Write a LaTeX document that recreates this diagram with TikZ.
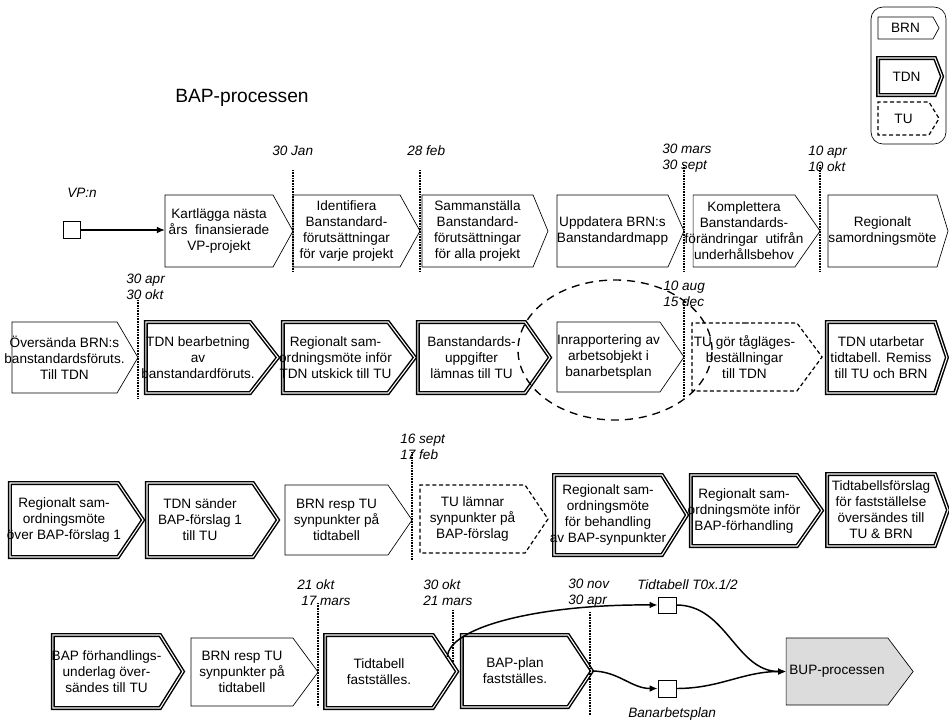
\documentclass[tikz,border=0pt]{standalone}
\usepackage{fontspec}
\setmainfont{Liberation Sans}
\usetikzlibrary{shapes.symbols, arrows.meta}
\definecolor{bupgray}{RGB}{220,220,220}
\tikzset{
    box/.style={signal, signal to=east, inner sep=0pt, outer sep=0pt, fill=white},
    brn/.style={box, draw, line width=0.5pt},
    tdn/.style={box, draw, double=white, double distance=0.8pt, line width=1.1pt},
    tu/.style={box, draw, line width=0.9pt, dash pattern=on 3pt off 2pt},
    sz/.style 2 args={minimum width=#1*0.75pt, minimum height=#2*0.75pt},
    boxtext/.style={font=\fontsize{10.2}{12}\selectfont, align=center, inner sep=0pt},
    txt/.style={label={[boxtext]center:{#1}}},
    date/.style={font=\fontsize{10.2}{12}\selectfont\itshape, align=left, anchor=west, inner sep=0pt},
    dateline/.style={line width=1.2pt, dash pattern=on 0.7pt off 0.5pt},
    sq/.style={draw, fill=white, line width=0.5pt, inner sep=0pt},
    flow/.style={-{Latex[length=6pt,width=5pt]}, line width=1.1pt}
}
\begin{document}
\begin{tikzpicture}[x=0.75pt, y=-0.75pt]
    \useasboundingbox (0,0) rectangle (949,726);
    \node[anchor=west, font=\fontsize{14.4}{17}\selectfont, inner sep=0pt] (title) at (175,98) {BAP-processen};

    % legend
    \draw[line width=0.5pt, rounded corners=9pt] (871,7) rectangle (946,144);
    \node[brn, sz={61}{22}, signal pointer angle=122, txt={BRN}] (lbrn) at (905.5,28) {};
    \node[tdn, sz={64}{37}, signal pointer angle=138, txt={TDN}] (ltdn) at (906.5,76.5) {};
    \node[tu, sz={61}{33}, signal pointer angle=117, txt={TU}] (ltu) at (903.5,118.5) {};

    % row 1
    \node[brn, sz={128}{72}, signal pointer angle=122, txt={Kartlägga nästa\\års~ finansierade\\VP-projekt}] (kart) at (219,231) {};
    \node[brn, sz={127}{72}, signal pointer angle=122, txt={Identifiera\\Banstandard-\\förutsättningar\\för varje projekt}] (ident) at (346.5,231) {};
    \node[brn, sz={126}{72}, signal pointer angle=135, txt={Sammanställa\\Banstandard-\\förutsättningar\\för alla projekt}] (samm) at (477.5,231) {};
    \node[brn, sz={127}{72}, signal pointer angle=132, txt={Uppdatera BRN:s\\Banstandardmapp}] (uppd) at (612.5,231) {};
    \node[brn, sz={127}{72}, signal pointer angle=110, txt={Komplettera\\Banstandards-\\förändringar~ utifrån\\underhållsbehov}] (kompl) at (744,231) {};
    \node[brn, sz={120}{72}, signal pointer angle=146, txt={Regionalt\\samordningsmöte}] (regsam) at (882.5,231) {};

    \node[date] (vplbl) at (67,193) {VP:n};
    \node[sq, minimum width=12.75pt, minimum height=12.75pt] (vp) at (71.5,230) {};
    \draw[flow] (vp) -- (kart.west |- vp);

    \node[date] (d1) at (272,151) {30 Jan};
    \node[date] (d2) at (407,151) {28 feb};
    \node[date] (d3) at (662,158.5) {30 mars\\30 sept};
    \node[date] (d4) at (808,158.5) {10 apr\\10 okt};
    \draw[dateline] (293,170) -- (293,272);
    \draw[dateline] (420,170) -- (420,272);
    \draw[dateline] (684,165) -- (684,272);
    \draw[dateline] (820,165) -- (820,272);

    % row 2
    \node[brn, sz={126}{71}, signal pointer angle=119, txt={Översända BRN:s\\banstandardsföruts.\\Till TDN}] (overs) at (64.5,357.5) {};
    \node[tdn, sz={132}{71}, signal pointer angle=104, txt={TDN bearbetning\\av\\banstandardföruts.}] (tdnbe) at (198,357.5) {};
    \node[tdn, sz={132}{71}, signal pointer angle=106, txt={Regionalt sam-\\ordningsmöte inför\\TDN utskick till TU}] (regtdn) at (335.5,357.5) {};
    \node[tdn, sz={132}{71}, signal pointer angle=110, txt={Banstandards-\\uppgifter\\lämnas till TU}] (banupp) at (471.5,357.5) {};
    \node[brn, sz={127}{70}, signal pointer angle=111, txt={Inrapportering av\\arbetsobjekt i\\banarbetsplan}] (inrapp) at (608.5,357) {};
    \node[tu, sz={130}{68}, signal pointer angle=107, txt={TU gör tågläges-\\beställningar\\till TDN}] (tugor) at (744.5,357) {};
    \node[tdn, sz={120}{71}, signal pointer angle=143, txt={TDN utarbetar\\tidtabell. Remiss\\till TU och BRN}] (tdnut) at (881,357.5) {};

    \node[date] (d5) at (126,286.5) {30 apr\\30 okt};
    \node[date] (d6) at (663,294) {10 aug\\15 dec};
    \draw[dateline] (138,300) -- (138,398);
    \draw[dateline] (684,302) -- (684,398);
    \draw[line width=1pt, dash pattern=on 6pt off 4.5pt] (615,350) ellipse [x radius=72.75pt, y radius=52.5pt];

    % row 3
    \node[tdn, sz={133}{74}, signal pointer angle=112, txt={Regionalt sam-\\ordningsmöte\\över BAP-förslag 1}] (regbap) at (64,520) {};
    \node[tdn, sz={131}{74}, signal pointer angle=112, txt={TDN sänder\\BAP-förslag 1\\till TU}] (tdnsand) at (200,520) {};
    \node[brn, sz={127}{70}, signal pointer angle=111, txt={BRN resp TU\\synpunkter på\\tidtabell}] (brnsyn) at (336.5,520) {};
    \node[tu, sz={128}{68}, signal pointer angle=112, txt={TU lämnar\\synpunkter på\\BAP-förslag}] (tulamn) at (472.5,519) {};
    \node[tdn, sz={133}{80}, signal pointer angle=116, txt={Regionalt sam-\\ordningsmöte\\för behandling\\av BAP-synpunkter}] (regbeh) at (608,515) {};
    \node[tdn, sz={131}{71}, signal pointer angle=110, txt={Regionalt sam-\\ordningsmöte inför\\BAP-förhandling}] (regforh) at (744,510.5) {};
    \node[tdn, sz={121}{72}, signal pointer angle=140, txt={Tidtabellsförslag\\för fastställelse\\översändes till\\TU \& BRN}] (ttforsl) at (881,510) {};

    \node[date] (d7) at (400,447) {16 sept\\17 feb};
    \draw[dateline] (412,452) -- (412,560);

    % row 4
    \node[tdn, sz={130}{73}, signal pointer angle=116, txt={BAP förhandlings-\\underlag över-\\sändes till TU}] (bapund) at (106.5,671.5) {};
    \node[brn, sz={127}{68}, signal pointer angle=107, txt={BRN resp TU\\synpunkter på\\tidtabell}] (brnsyn2) at (242,672) {};
    \node[tdn, sz={132}{73}, signal pointer angle=113, txt={Tidtabell\\fastställes.}] (ttfast) at (379,671.5) {};
    \node[tdn, sz={130}{72}, signal pointer angle=113, txt={BAP-plan\\fastställes.}] (bapplan) at (515,671) {};
    \node[brn, fill=bupgray, sz={127}{67}, signal pointer angle=106, txt={BUP-processen}] (bup) at (837,671.5) {};

    \node[date] (d8) at (297,593) {21 okt\\\hspace*{3pt}17 mars};
    \node[date] (d9) at (423,593) {30 okt\\21 mars};
    \node[date] (d10) at (568,593) {30 nov\\30 apr};
    \draw[dateline] (318,603) -- (318,707);
    \draw[dateline] (453,610) -- (453,662);
    \draw[dateline] (590,612) -- (590,715);

    \node[sq, minimum width=13.5pt, minimum height=12pt] (tt) at (667,605) {};
    \node[sq, minimum width=13.5pt, minimum height=12.75pt] (ba) at (667,688.5) {};
    \node[date] (ttlbl) at (637,585) {Tidtabell T0x.1/2};
    \node[date] (balbl) at (628,714) {Banarbetsplan};

    \draw[flow] (ttfast.12) .. controls +(1,-30) and +(-118,-1) .. (tt.west);
    \draw[flow] (tt.east) to[out=0, in=180] (bup.west);
    \draw[flow] (bapplan.east) to[out=0, in=180] (ba.west);
    \draw[flow] (ba.east) to[out=0, in=180] (bup.west);
\end{tikzpicture}
\end{document}
